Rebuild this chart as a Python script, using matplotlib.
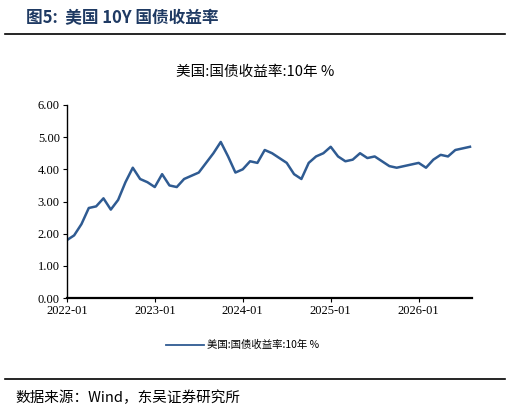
import matplotlib
matplotlib.use("Agg")
import matplotlib.pyplot as plt
import matplotlib.lines as mlines
import numpy as np

plt.rcParams['font.family'] = ['Liberation Serif', 'Noto Sans CJK SC']

years = [2022, 2023, 2024, 2025, 2026]
x_labels = ["2022-01", "2023-01", "2024-01", "2025-01", "2026-01"]
y_ticks = [0, 1, 2, 3, 4, 5, 6]
yield_2022 = [1.80, 1.95, 2.30, 2.80, 2.85, 3.10, 2.75, 3.05, 3.60, 4.05, 3.70, 3.60]
yield_2023 = [3.45, 3.85, 3.50, 3.45, 3.70, 3.80, 3.90, 4.20, 4.50, 4.85, 4.40, 3.90]
yield_2024 = [4.00, 4.25, 4.20, 4.60, 4.50, 4.35, 4.20, 3.85, 3.70, 4.20, 4.40, 4.50]
yield_2025 = [4.70, 4.40, 4.25, 4.30, 4.50, 4.35, 4.40, 4.25, 4.10, 4.05, 4.10, 4.15]
yield_2026 = [4.20, 4.05, 4.30, 4.45, 4.40, 4.60, 4.65, 4.70]
values = yield_2022 + yield_2023 + yield_2024 + yield_2025 + yield_2026
t = 2022 + np.arange(len(values)) / 12.0

fig = plt.figure(figsize=(5.10, 4.13), dpi=100)
ax = fig.add_axes([0.131, 0.278, 0.794, 0.468])
color = '#2F5B92'
ax.plot(t, values, color=color, lw=1.8)
ax.set_xlim(2022, t[-1] + 0.02)
ax.set_ylim(0, 6)
ax.set_yticks(y_ticks)
ax.set_yticklabels([f"{v:.2f}" for v in y_ticks], fontsize=9)
ax.set_xticks(years)
ax.set_xticklabels(x_labels, fontsize=9)
for s in ['top', 'right']:
    ax.spines[s].set_visible(False)
ax.spines['left'].set_linewidth(1.0)
ax.spines['bottom'].set_linewidth(1.6)
ax.tick_params(direction='out', length=3, pad=2)

fig.text(0.05, 0.956, "图5:  美国 10Y 国债收益率", fontsize=12, fontweight='bold',
         color='#1F3A63', family=['Noto Sans CJK SC'], va='center')
fig.add_artist(mlines.Line2D([0.01, 0.99], [0.918, 0.918], color='black', lw=1.2))
fig.text(0.5, 0.826, "美国:国债收益率:10年 %", fontsize=10.5, ha='center', va='center',
         family=['Noto Sans CJK SC', 'DejaVu Sans'])
fig.add_artist(mlines.Line2D([0.325, 0.40], [0.165, 0.165], color=color, lw=1.3))
fig.text(0.405, 0.165, "美国:国债收益率:10年 %", fontsize=7.5, va='center',
         family=['Noto Sans CJK SC', 'DejaVu Sans'])
fig.add_artist(mlines.Line2D([0.01, 0.99], [0.082, 0.082], color='black', lw=1.2))
fig.text(0.03, 0.036, "数据来源：Wind，东吴证券研究所", fontsize=10.5, va='center',
         family=['Noto Sans CJK SC', 'DejaVu Sans'])
fig.savefig("out.png", dpi=100)
